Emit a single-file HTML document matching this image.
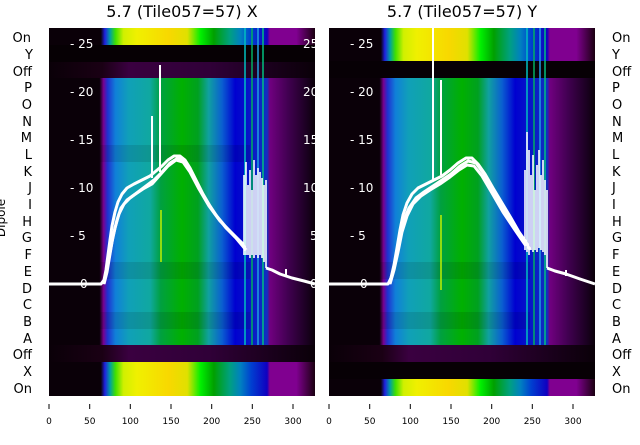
<!DOCTYPE html>
<html><head><meta charset="utf-8"><style>
body{margin:0;background:#fff;width:640px;height:440px;overflow:hidden}
text{font-family:"DejaVu Sans","Liberation Sans",sans-serif}
</style></head><body>
<svg width="640" height="440" xmlns="http://www.w3.org/2000/svg">
<defs>
<linearGradient id="m" x1="0" x2="1" y1="0" y2="0">
<stop offset="0" stop-color="#0a0008"/><stop offset="0.19" stop-color="#0a0008"/>
<stop offset="0.205" stop-color="#7a0090"/><stop offset="0.22" stop-color="#2030d0"/>
<stop offset="0.25" stop-color="#1080d8"/><stop offset="0.30" stop-color="#10a0b8"/>
<stop offset="0.38" stop-color="#10a8a0"/><stop offset="0.42" stop-color="#00a040"/>
<stop offset="0.50" stop-color="#00b000"/><stop offset="0.56" stop-color="#00a020"/>
<stop offset="0.60" stop-color="#10a0a0"/><stop offset="0.65" stop-color="#0a60d0"/>
<stop offset="0.70" stop-color="#0000d0"/><stop offset="0.82" stop-color="#1030c0"/>
<stop offset="0.83" stop-color="#700080"/><stop offset="0.90" stop-color="#400050"/>
<stop offset="0.97" stop-color="#1a0020"/><stop offset="1" stop-color="#0a0008"/>
</linearGradient>
<linearGradient id="b" x1="0" x2="1" y1="0" y2="0">
<stop offset="0" stop-color="#0a0008"/><stop offset="0.195" stop-color="#0a0008"/>
<stop offset="0.21" stop-color="#2020e0"/><stop offset="0.23" stop-color="#00a0a0"/>
<stop offset="0.25" stop-color="#40e000"/><stop offset="0.28" stop-color="#d0f000"/>
<stop offset="0.33" stop-color="#f0f000"/><stop offset="0.45" stop-color="#f8d800"/>
<stop offset="0.52" stop-color="#e0e000"/><stop offset="0.57" stop-color="#00f000"/>
<stop offset="0.62" stop-color="#00a000"/><stop offset="0.68" stop-color="#00a080"/>
<stop offset="0.72" stop-color="#0080c0"/><stop offset="0.76" stop-color="#0040d0"/>
<stop offset="0.82" stop-color="#1000c0"/><stop offset="0.83" stop-color="#800090"/>
<stop offset="0.93" stop-color="#800090"/><stop offset="1" stop-color="#1a0010"/>
</linearGradient>
<linearGradient id="d" x1="0" x2="1" y1="0" y2="0">
<stop offset="0" stop-color="#0a0008"/><stop offset="0.2" stop-color="#1a0014"/>
<stop offset="0.3" stop-color="#3a0040"/><stop offset="0.6" stop-color="#300038"/>
<stop offset="1" stop-color="#0a0008"/>
</linearGradient>
</defs>

<text x="182" y="17" font-size="16" text-anchor="middle">5.7 (Tile057=57) X</text>
<text x="462" y="17" font-size="16" text-anchor="middle">5.7 (Tile057=57) Y</text>

<!-- Left panel -->
<g>
<rect x="49" y="28" width="266" height="368" fill="url(#m)"/>
<rect x="49" y="28" width="266" height="17" fill="url(#b)"/>
<rect x="49" y="45" width="266" height="17" fill="#060004"/>
<rect x="49" y="62" width="266" height="16" fill="url(#d)"/>
<rect x="49" y="345" width="266" height="17" fill="url(#d)"/>
<rect x="49" y="362" width="266" height="34" fill="url(#b)"/>
<g opacity="0.1" fill="#000"><rect x="100" y="145" width="150" height="17"/><rect x="100" y="262" width="150" height="17"/><rect x="100" y="312" width="150" height="17"/></g>
<g stroke-width="1.5"><line x1="245" y1="28" x2="245" y2="345" stroke="#00c0c0"/><line x1="252" y1="28" x2="252" y2="345" stroke="#00b060"/><line x1="258" y1="28" x2="258" y2="345" stroke="#20a0e0"/><line x1="263" y1="28" x2="263" y2="345" stroke="#00c080"/><line x1="161" y1="210" x2="161" y2="262" stroke="#c0f000"/></g>
<g fill="#fff" font-size="12"><text x="70" y="48">- 25</text><text x="70" y="96">- 20</text><text x="70" y="144">- 15</text><text x="70" y="192">- 10</text><text x="70" y="240">- 5</text><text x="80" y="288">0</text>
<text x="303" y="48">25</text><text x="303" y="96">20</text><text x="303" y="144">15</text><text x="303" y="192">10</text><text x="310" y="240">5</text><text x="310" y="288">0</text></g>
<g fill="none" stroke="#fff" stroke-width="3" stroke-linejoin="round">
<polyline points="49,284 101,284 104,280 106,270 108,255 110,240 112,226 115,212 118,202 122,194 127,188 134,184 142,180 150,176 156,171 162,166 168,160 174,156 180,156 185,160 190,168 196,180 203,194 210,206 218,218 226,228 234,236 242,243 246,250"/>
<polyline points="103,284 106,274 109,258 112,242 115,228 119,214 124,204 130,198 138,192 146,186 154,180 162,172 170,163 178,158 184,160 190,170 198,186 206,200 215,214 225,226 236,238 246,250"/>
<polyline points="104,284 107,272 110,254 113,236 117,220 121,208 127,200 134,195 143,189 152,184 160,175 168,166 176,160 183,162 190,172 199,189 209,206 220,221 232,233 244,245"/>
<polyline points="266,268 272,270 280,274 292,278 304,281 315,284"/>
</g>
<g stroke="#fff" stroke-width="1.6">
<line x1="244" y1="255" x2="244" y2="175"/><line x1="246" y1="255" x2="246" y2="162"/><line x1="248" y1="255" x2="248" y2="185"/><line x1="250" y1="258" x2="250" y2="170"/><line x1="252" y1="255" x2="252" y2="190"/><line x1="254" y1="258" x2="254" y2="160"/><line x1="256" y1="255" x2="256" y2="175"/><line x1="258" y1="258" x2="258" y2="168"/><line x1="260" y1="255" x2="260" y2="172"/><line x1="262" y1="258" x2="262" y2="178"/><line x1="264" y1="262" x2="264" y2="185"/><line x1="266" y1="268" x2="266" y2="180"/>
</g>
<g stroke="#fff" stroke-width="2"><line x1="152" y1="178" x2="152" y2="116"/><line x1="160" y1="172" x2="160" y2="65"/><line x1="286" y1="276" x2="286" y2="269"/></g>
</g>

<!-- Right panel -->
<g>
<rect x="329" y="28" width="266" height="368" fill="url(#m)"/>
<rect x="329" y="28" width="266" height="33" fill="url(#b)"/>
<rect x="329" y="61" width="266" height="17" fill="#070005"/>
<rect x="329" y="345" width="266" height="17" fill="url(#d)"/>
<rect x="329" y="362" width="266" height="17" fill="#070005"/>
<rect x="329" y="379" width="266" height="17" fill="url(#b)"/>
<g opacity="0.1" fill="#000"><rect x="380" y="262" width="150" height="17"/><rect x="380" y="312" width="150" height="17"/></g>
<g stroke-width="1.5"><line x1="527" y1="28" x2="527" y2="345" stroke="#00c0c0"/><line x1="534" y1="28" x2="534" y2="345" stroke="#00b060"/><line x1="540" y1="28" x2="540" y2="345" stroke="#20a0e0"/><line x1="545" y1="28" x2="545" y2="345" stroke="#00c080"/><line x1="441" y1="215" x2="441" y2="290" stroke="#c0f000"/></g>
<g fill="#fff" font-size="12"><text x="350" y="48">- 25</text><text x="350" y="96">- 20</text><text x="350" y="144">- 15</text><text x="350" y="192">- 10</text><text x="350" y="240">- 5</text><text x="360" y="288">0</text></g>
<g fill="none" stroke="#fff" stroke-width="3" stroke-linejoin="round">
<polyline points="329,284 388,284 391,278 394,265 397,248 400,230 403,215 407,203 412,194 418,188 426,184 434,180 442,176 450,170 458,163 466,158 472,158 478,164 485,174 493,188 502,203 511,218 519,232 526,242 530,250"/>
<polyline points="389,284 393,272 396,256 400,236 404,220 409,208 416,198 424,192 433,186 442,180 451,174 460,166 468,161 476,163 484,174 494,192 504,210 514,226 524,240"/>
<polyline points="390,284 394,270 398,252 402,232 407,216 413,204 421,196 430,190 440,184 450,177 459,170 467,165 474,166 482,176 492,193 503,212 515,230 526,246"/>
<polyline points="547,268 555,271 566,274 580,279 595,284"/>
</g>
<g stroke="#fff" stroke-width="1.6">
<line x1="525" y1="250" x2="525" y2="170"/><line x1="527" y1="252" x2="527" y2="132"/><line x1="529" y1="255" x2="529" y2="150"/><line x1="531" y1="250" x2="531" y2="175"/><line x1="533" y1="252" x2="533" y2="155"/><line x1="535" y1="250" x2="535" y2="190"/><line x1="537" y1="252" x2="537" y2="165"/><line x1="539" y1="248" x2="539" y2="150"/><line x1="541" y1="250" x2="541" y2="175"/><line x1="543" y1="252" x2="543" y2="160"/><line x1="545" y1="255" x2="545" y2="180"/><line x1="547" y1="268" x2="547" y2="190"/>
</g>
<g stroke="#fff" stroke-width="2"><line x1="433" y1="180" x2="433" y2="28"/><line x1="441" y1="175" x2="441" y2="80"/><line x1="566" y1="276" x2="566" y2="270"/></g>
</g>

<g font-size="13" text-anchor="end">
<text x="31" y="42">On</text><text x="33" y="59">Y</text><text x="32" y="76">Off</text>
<text x="32" y="92">P</text><text x="32" y="109">O</text><text x="32" y="126">N</text><text x="32" y="142">M</text>
<text x="32" y="159">L</text><text x="32" y="176">K</text><text x="32" y="192">J</text><text x="32" y="209">I</text>
<text x="32" y="226">H</text><text x="32" y="242">G</text><text x="32" y="259">F</text><text x="32" y="276">E</text>
<text x="32" y="293">D</text><text x="32" y="309">C</text><text x="32" y="326">B</text><text x="32" y="343">A</text>
<text x="32" y="359">Off</text><text x="32" y="376">X</text><text x="32" y="393">On</text>
</g>
<text transform="translate(5,218) rotate(-90)" font-size="12" text-anchor="middle">Dipole</text>
<g font-size="13">
<text x="612" y="42">On</text><text x="612" y="59">Y</text><text x="612" y="76">Off</text>
<text x="612" y="92">P</text><text x="612" y="109">O</text><text x="612" y="126">N</text><text x="612" y="142">M</text>
<text x="612" y="159">L</text><text x="612" y="176">K</text><text x="612" y="192">J</text><text x="612" y="209">I</text>
<text x="612" y="226">H</text><text x="612" y="242">G</text><text x="612" y="259">F</text><text x="612" y="276">E</text>
<text x="612" y="293">D</text><text x="612" y="309">C</text><text x="612" y="326">B</text><text x="612" y="343">A</text>
<text x="612" y="359">Off</text><text x="612" y="376">X</text><text x="612" y="393">On</text>
</g>

<g stroke="#000" stroke-width="1">
<line x1="49" y1="409" x2="49" y2="404"/><line x1="89.7" y1="409" x2="89.7" y2="404"/><line x1="130.3" y1="409" x2="130.3" y2="404"/><line x1="171" y1="409" x2="171" y2="404"/><line x1="211.7" y1="409" x2="211.7" y2="404"/><line x1="252.3" y1="409" x2="252.3" y2="404"/><line x1="293" y1="409" x2="293" y2="404"/>
<line x1="329" y1="409" x2="329" y2="404"/><line x1="369.7" y1="409" x2="369.7" y2="404"/><line x1="410.3" y1="409" x2="410.3" y2="404"/><line x1="451" y1="409" x2="451" y2="404"/><line x1="491.7" y1="409" x2="491.7" y2="404"/><line x1="532.3" y1="409" x2="532.3" y2="404"/><line x1="573" y1="409" x2="573" y2="404"/>
</g>
<g font-size="9" text-anchor="middle">
<text x="49" y="424">0</text><text x="89.7" y="424">50</text><text x="130.3" y="424">100</text><text x="171" y="424">150</text><text x="211.7" y="424">200</text><text x="252.3" y="424">250</text><text x="293" y="424">300</text>
<text x="329" y="424">0</text><text x="369.7" y="424">50</text><text x="410.3" y="424">100</text><text x="451" y="424">150</text><text x="491.7" y="424">200</text><text x="532.3" y="424">250</text><text x="573" y="424">300</text>
</g>
</svg>
</body></html>
